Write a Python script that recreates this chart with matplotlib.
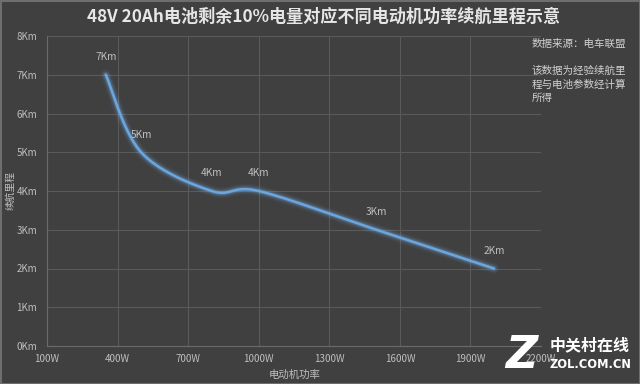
import numpy as np
import matplotlib
matplotlib.use("Agg")
import matplotlib.pyplot as plt
from matplotlib.patches import Rectangle

plt.rcParams['font.family'] = ['Noto Sans CJK SC', 'DejaVu Sans']

# ---- data ----
power_w = [350, 500, 800, 1000, 1500, 2000]
range_km = [7, 5, 4, 4, 3, 2]
point_labels = ["7Km", "5Km", "4Km", "4Km", "3Km", "2Km"]
x_ticks = [100, 400, 700, 1000, 1300, 1600, 1900, 2200]
x_ticklabels = ["100W", "400W", "700W", "1000W", "1300W", "1600W", "1900W", "2200W"]
y_ticks = [0, 1, 2, 3, 4, 5, 6, 7, 8]
y_ticklabels = ["0Km", "1Km", "2Km", "3Km", "4Km", "5Km", "6Km", "7Km", "8Km"]
title = "48V 20Ah电池剩余10%电量对应不同电动机功率续航里程示意"
xlabel = "电动机功率"
ylabel = "续航里程"
note_lines = ["数据来源：电车联盟", "", "该数据为经验续航里", "程与电池参数经计算", "所得"]

BG = "#404040"
GRID = "#5a5a5a"
TXT = "#bfbfbf"

fig = plt.figure(figsize=(6.4, 3.84), dpi=100, facecolor=BG)
ax = fig.add_axes([47/640, 1-346/384, (541-47)/640, (346-36)/384])
ax.set_facecolor(BG)
ax.set_xlim(100, 2200)
ax.set_ylim(0, 8)

# smoothed curve (Bezier through points, computed in pixel space)
W, H = 494.0, 310.0
px = [(x - 100) / 2100 * W for x in power_w]
py = [y / 8 * H for y in range_km]
P = np.array(list(zip(px, py)))
n = len(P)
curve = []
for i in range(n - 1):
    p0 = P[max(i - 1, 0)]
    p1 = P[i]
    p2 = P[i + 1]
    p3 = P[min(i + 2, n - 1)]
    c1 = p1 + (p2 - p0) / 6
    c2 = p2 - (p3 - p1) / 6
    t = np.linspace(0, 1, 40)[:, None]
    seg = (1 - t) ** 3 * p1 + 3 * (1 - t) ** 2 * t * c1 + 3 * (1 - t) * t ** 2 * c2 + t ** 3 * p2
    curve.append(seg if i == 0 else seg[1:])
curve = np.vstack(curve)
cx = curve[:, 0] / W * 2100 + 100
cy = curve[:, 1] / H * 8

for lw, a in [(8, 0.05), (6, 0.08), (4.5, 0.12), (3.2, 0.18)]:
    ax.plot(cx, cy, color="#7ab4ec", lw=lw, alpha=a, solid_capstyle="round", zorder=3)
ax.plot(cx, cy, color="#6aa6e0", lw=1.8, solid_capstyle="round", zorder=4)

for x, y, lab in zip(power_w, range_km, point_labels):
    ax.annotate(lab, (x, y), xytext=(0, 9), textcoords="offset points",
                ha="center", va="bottom", color=TXT, fontsize=7.3, zorder=5)

ax.set_xticks(x_ticks)
ax.set_xticklabels(x_ticklabels)
ax.set_yticks(y_ticks)
ax.set_yticklabels(y_ticklabels)
ax.tick_params(length=0, colors=TXT, labelsize=7)
ax.tick_params(axis="x", pad=6)
ax.tick_params(axis="y", pad=7)
ax.grid(True, color=GRID, lw=0.8)
for s in ["top", "right"]:
    ax.spines[s].set_visible(False)
for s in ["left", "bottom"]:
    ax.spines[s].set_color("#6a6a6a")
    ax.spines[s].set_linewidth(0.8)

fig.text(0.505, 1 - 17/384, title, ha="center", va="center", color="#e6e6e6",
         fontsize=12.3, fontweight="bold")
fig.text(295/640, 1 - 375/384, xlabel, ha="center", va="center", color=TXT, fontsize=7.5)
fig.text(10/640, 1 - 190/384, ylabel, ha="center", va="center", color=TXT, fontsize=7,
         rotation=90)

# note box covering right part
fig.patches.append(Rectangle((542/640, 30/384), 98/640, 330/384, transform=fig.transFigure,
                             facecolor=BG, edgecolor="none", zorder=1))
fig.text(532/640, 1 - 39/384, "\n".join(note_lines), ha="left", va="top",
         color="#d0d0d0", fontsize=7.6, linespacing=1.4)

# watermark
fig.text(521/640, 1 - 356/384, "Z", ha="center", va="center", color="white",
         fontsize=32, fontweight="bold", style="italic", family=["DejaVu Sans"])
fig.text(590/640, 1 - 345/384, "中关村在线", ha="center", va="center", color="white",
         fontsize=11.5, fontweight="bold")
fig.text(590/640, 1 - 365/384, "ZOL.COM.CN", ha="center", va="center", color="white",
         fontsize=8.3, fontweight="bold", family=["DejaVu Sans"])

# outer frame
fig.patches.append(Rectangle((0.5/640, 0.5/384), 639/640, 383/384, transform=fig.transFigure,
                             facecolor="none", edgecolor="#6e6e6e", lw=1.5, zorder=10))

fig.savefig("out.png", dpi=100, facecolor=BG)
